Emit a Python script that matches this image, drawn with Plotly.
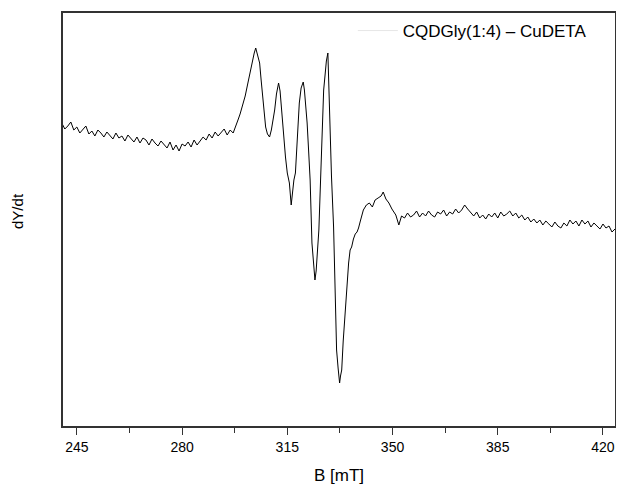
import plotly.graph_objects as go

# Magnetic field B [mT]
b_left = [240, 241, 242, 243, 244, 245, 246, 247, 248, 249, 250, 251, 252, 253, 254, 255, 256, 257, 258, 259,
          260, 261, 262, 263, 264, 265, 266, 267, 268, 269, 270, 271, 272, 273, 274, 275, 276, 277, 278, 279,
          280, 281, 282, 283, 284, 285, 286, 287, 288, 289, 290, 291, 292, 293, 294, 295, 296, 297, 298]
y_left = [303, 297, 300, 304, 296, 299, 293, 297, 300, 292, 295, 290, 296, 293, 289, 294, 291, 287, 293, 288,
          290, 285, 291, 287, 284, 289, 283, 288, 286, 281, 287, 283, 280, 285, 281, 278, 284, 276, 281, 275,
          282, 280, 284, 279, 286, 281, 285, 289, 286, 292, 288, 294, 290, 293, 297, 291, 296, 293, 300]

b_mid = [298.6, 299.3, 300.2, 301.0, 301.9, 302.7, 303.5, 304.0, 304.5, 304.9, 305.3, 305.8, 306.3, 306.8,
         307.3, 307.8, 308.4, 309.1, 309.7, 310.3, 310.8, 311.4, 312.1, 312.6, 313.0, 313.4, 313.9, 314.4,
         315.0, 315.7, 316.3, 316.8, 317.2, 317.7, 318.3, 319.0, 319.6, 320.3, 320.7, 321.1, 321.6, 322.1,
         322.6, 323.2, 323.7, 324.2, 324.6, 324.9, 325.5, 326.0, 326.5, 327.1, 327.6, 328.0, 328.5, 328.8,
         329.1, 329.7, 330.4, 330.8, 331.1, 331.4, 331.9, 332.4, 332.7, 333.1, 333.6, 334.1, 334.7, 335.4,
         335.9, 336.4, 337.0, 337.6, 338.2, 338.7, 339.3, 340.3, 341.3, 342.3, 343.3, 344.2, 345.2, 346.2,
         346.9, 347.8, 348.8, 349.8, 351.1, 352.1, 353.0]
y_mid = [306, 312, 321, 330, 343, 355, 366, 373, 378, 374, 370, 363, 346, 329,
         312, 299, 292, 289, 296, 307, 316, 332, 343, 335, 318, 303, 285, 269,
         253, 243, 221, 236, 246, 253, 290, 323, 338, 344, 336, 323, 303, 275,
         246, 183, 162, 146, 155, 166, 196, 240, 279, 336, 352, 365, 373, 345,
         296, 250, 199, 159, 115, 76, 58, 43, 50, 56, 85, 109, 140, 163,
         176, 179, 187, 192, 194, 198, 205, 216, 221, 223, 219, 226, 228, 230,
         234, 227, 223, 217, 211, 201, 210]

b_right = [354, 355, 356, 357, 358, 359, 360, 361, 362, 363, 364, 365, 366, 367, 368, 369, 370, 371, 372, 373,
           374, 375, 376, 377, 378, 379, 380, 381, 382, 383, 384, 385, 386, 387, 388, 389, 390, 391, 392, 393,
           394, 395, 396, 397, 398, 399, 400, 401, 402, 403, 404, 405, 406, 407, 408, 409, 410, 411, 412, 413,
           414, 415, 416, 417, 418, 419, 420, 421, 422, 423, 424]
y_right = [208, 213, 209, 211, 215, 209, 213, 210, 215, 211, 209, 214, 212, 216, 210, 214, 212, 217, 213, 216,
           221, 217, 213, 210, 214, 208, 211, 207, 212, 209, 213, 208, 214, 210, 212, 215, 210, 213, 208, 211,
           206, 209, 204, 207, 203, 206, 201, 205, 202, 199, 204, 200, 198, 203, 200, 206, 202, 205, 200, 206,
           202, 205, 199, 203, 200, 197, 202, 198, 200, 194, 197]

field = b_left + b_mid + b_right
signal = y_left + y_mid + y_right

x_ticks = [245, 280, 315, 350, 385, 420]
x_minor = [262.5, 297.5, 332.5, 367.5, 402.5]
legend_label = "CQDGly(1:4) – CuDETA"

fig = go.Figure()
fig.add_trace(go.Scatter(x=field, y=signal, mode="lines",
                         line=dict(color="black", width=1), showlegend=False))
fig.add_trace(go.Scatter(x=[None], y=[None], mode="lines", name=legend_label,
                         line=dict(color="#e6e6e6", width=1), showlegend=True))

# the page body adds an 8 px margin, so the figure is sized to fit inside it
fig.update_layout(
    width=608, height=477,
    margin=dict(l=55, r=1, t=5, b=59),
    plot_bgcolor="white", paper_bgcolor="white",
    font=dict(family="Liberation Sans, Arial, sans-serif", color="black"),
    legend=dict(x=0.958, y=1.0, xanchor="right", yanchor="top",
                bgcolor="rgba(0,0,0,0)", font=dict(size=17),
                itemwidth=40),
    xaxis=dict(range=[240.4, 424.0], tickvals=x_ticks, ticks="outside", ticklen=7,
               tickcolor="#333", showline=True, linecolor="#333", linewidth=1.5, mirror=True,
               showgrid=False, zeroline=False, tickfont=dict(size=14), automargin=False,
               minor=dict(tickvals=x_minor, ticks="outside", ticklen=5, tickcolor="#333"),
               title=dict(text="B [mT]", font=dict(size=17), standoff=18)),
    yaxis=dict(range=[0, 413], showticklabels=False, ticks="", showline=True,
               linecolor="#333", linewidth=1.5, mirror=True, showgrid=False, zeroline=False,
               automargin=False),
    annotations=[dict(text="dY/dt", xref="paper", yref="paper", x=-0.082, y=0.52,
                      xanchor="center", yanchor="middle", textangle=-90,
                      showarrow=False, font=dict(size=15))],
)

fig.write_html("out.html")
